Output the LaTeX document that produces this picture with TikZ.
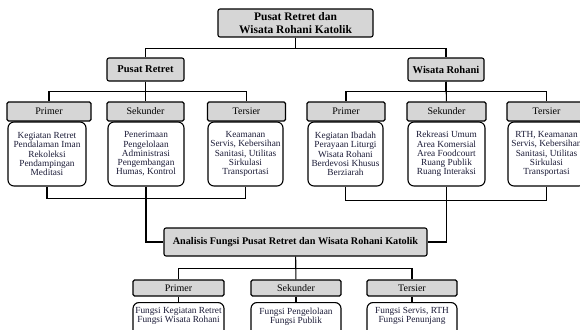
\documentclass[tikz,border=0pt]{standalone}
\usepackage{fontspec}
\setmainfont{Liberation Serif}
\definecolor{boxgray}{HTML}{D6D6D6}
\definecolor{itemtext}{HTML}{1C1C38}
\tikzstyle{title} = [rectangle, rounded corners=2pt, 
minimum width=155pt, 
minimum height=28pt, 
inner sep=0pt, 
text centered, 
draw=black, line width=1.1pt, 
fill=boxgray, 
font=\fontsize{11.5}{13}\selectfont\bfseries]
\tikzstyle{group} = [rectangle, rounded corners=2pt, 
minimum height=23pt, 
inner sep=0pt, 
text centered, 
draw=black, line width=1.1pt, 
fill=boxgray, 
font=\fontsize{10.5}{12}\selectfont\bfseries]
\tikzstyle{head} = [rectangle, rounded corners=1.5pt, 
minimum height=19pt, 
inner sep=0pt, 
text centered, 
draw=black, line width=1.1pt, 
fill=boxgray, 
font=\fontsize{10}{12}\selectfont]
\tikzstyle{item} = [rectangle, rounded corners=6pt, 
minimum height=64pt, 
inner sep=0pt, 
text centered, 
draw=black, line width=1.1pt, 
fill=white, text=itemtext, 
font=\fontsize{9.3}{9.2}\selectfont]
\tikzstyle{link} = [line width=1.1pt]

\begin{document}
\begin{tikzpicture}[x=1pt, y=-1pt]
\useasboundingbox (0,0) rectangle (580,329);
\clip (0,0) rectangle (580,329);

\node (top) [title, align=center] at (295.5,23) {Pusat Retret dan\\Wisata Rohani Katolik};

\node (pr) [group, minimum width=77pt] at (145.5,69.5) {Pusat Retret};
\node (wr) [group, minimum width=76pt] at (446,69.5) {Wisata Rohani};

\node (prh1) [head, minimum width=84pt] at (49,111.5) {Primer};
\node (prh2) [head, minimum width=77pt] at (145.5,111.5) {Sekunder};
\node (prh3) [head, minimum width=78pt] at (246.5,111.5) {Tersier};

\node (wrh1) [head, minimum width=78pt] at (346,111.5) {Primer};
\node (wrh2) [head, minimum width=79pt] at (446.5,111.5) {Sekunder};
\node (wrh3) [head, minimum width=79pt] at (546.5,111.5) {Tersier};

\node (pri1) [item, minimum width=78pt, align=center] at (47,154) {Kegiatan Retret\\Pendalaman Iman\\Rekoleksi\\Pendampingan\\Meditasi};
\node (pri2) [item, minimum width=76pt, align=center] at (146,154) {Penerimaan\\Pengelolaan\\Administrasi\\Pengembangan\\Humas, Kontrol};
\node (pri3) [item, minimum width=75pt, align=center] at (245.5,154) {Keamanan\\Servis, Kebersihan\\Sanitasi, Utilitas\\Sirkulasi\\Transportasi};

\node (wri1) [item, minimum width=75pt, align=center] at (345.5,154) {Kegiatan Ibadah\\Perayaan Liturgi\\Wisata Rohani\\Berdevosi Khusus\\Berziarah};
\node (wri2) [item, minimum width=77pt, align=center] at (446.5,154) {Rekreasi Umum\\Area Komersial\\Area Foodcourt\\Ruang Publik\\Ruang Interaksi};
\node (wri3) [item, minimum width=77pt, align=center] at (546.5,154) {RTH, Keamanan\\Servis, Kebersihan\\Sanitasi, Utilitas\\Sirkulasi\\Transportasi};

\node (an) [group, minimum width=263pt, minimum height=28pt, font=\fontsize{10.2}{12}\selectfont\bfseries] at (295.5,242) {Analisis Fungsi Pusat Retret dan Wisata Rohani Katolik};

\node (anh1) [head, minimum width=91pt, minimum height=16pt] at (178.5,288) {Primer};
\node (anh2) [head, minimum width=90pt, minimum height=16pt] at (296,288) {Sekunder};
\node (anh3) [head, minimum width=90pt, minimum height=16pt] at (412,288) {Tersier};

\node (ani1) [item, minimum width=91pt, minimum height=0pt, inner ysep=5pt, anchor=north, align=center] at (178.5,302) {Fungsi Kegiatan Retret\\Fungsi Wisata Rohani\\~\\~\\~};
\node (ani2) [item, minimum width=90pt, minimum height=0pt, inner ysep=5pt, anchor=north, align=center] at (296,302) {Fungsi Pengelolaan\\Fungsi Publik\\~\\~\\~};
\node (ani3) [item, minimum width=90pt, minimum height=0pt, inner ysep=5pt, anchor=north, align=center] at (412,302) {Fungsi Servis, RTH\\Fungsi Penunjang\\~\\~\\~};

\draw [link] (top.south) -- ++(0,11) -| (pr.north);
\draw [link] (top.south) -- ++(0,11) -| (wr.north);
\draw [link] (pr.south) -- ++(0,10) -| (prh1.north);
\draw [link] (pr.south) -- ++(0,10) -| (prh3.north);
\draw [link] (pr) -- (prh2);
\draw [link] (wr.south) -- ++(0,10) -| (wrh1.north);
\draw [link] (wr.south) -- ++(0,10) -| (wrh3.north);
\draw [link] (wr) -- (wrh2);
\draw [link] (pri1.south) -- ++(0,12) -| (pri3.south);
\draw [link] (pri2.south) |- (an.west);
\draw [link] (wri1.south) -- ++(0,14) -| (wri3.south);
\draw [link] (wri2.south) |- (an.east);
\draw [link] (an.south) -- ++(0,12) -| (anh1.north);
\draw [link] (an.south) -- ++(0,12) -| (anh3.north);
\draw [link] (an) -- (anh2);
\draw [link] (anh1) -- (ani1);
\draw [link] (anh2) -- (ani2);
\draw [link] (anh3) -- (ani3);
\end{tikzpicture}
\end{document}
